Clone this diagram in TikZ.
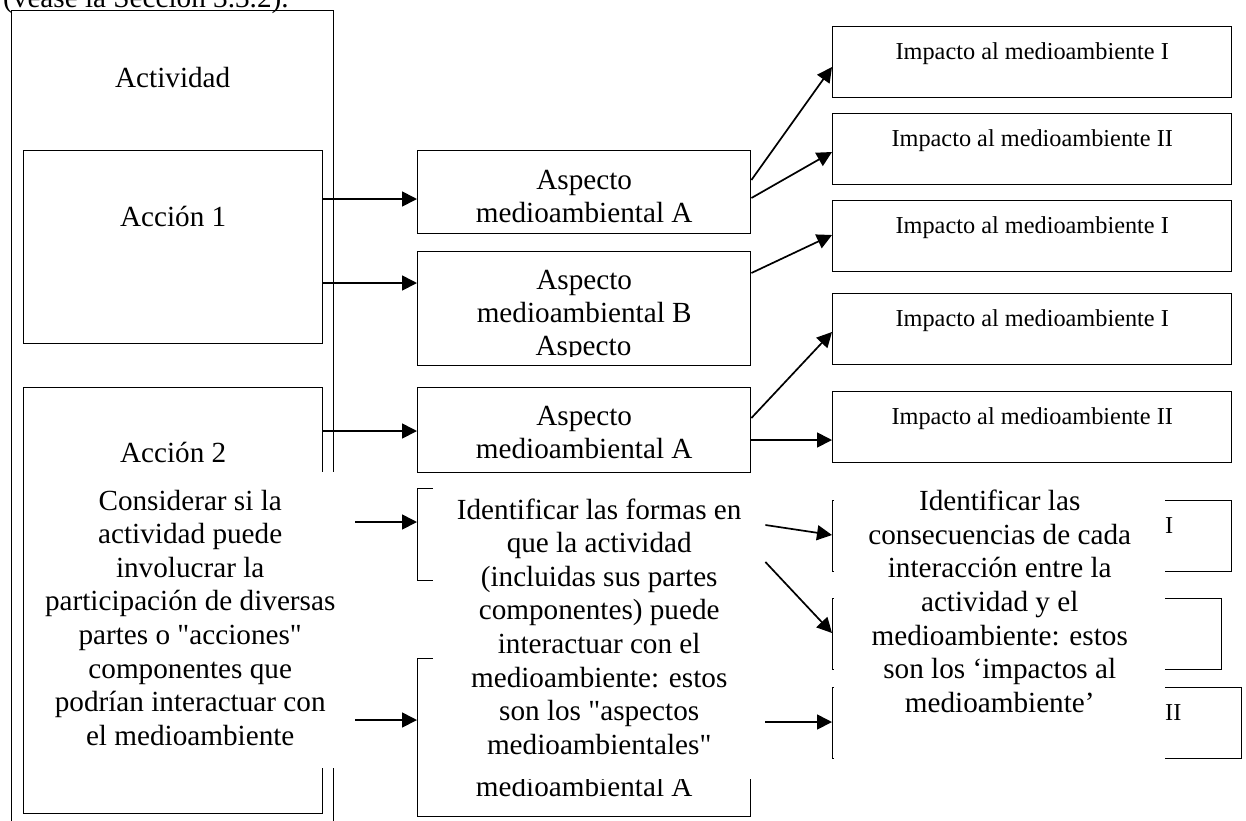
\documentclass[tikz,border=0pt]{standalone}
\usepackage{fontspec}
\setmainfont{Liberation Serif}
\usepackage{tikz}
\usetikzlibrary{arrows.meta}

\begin{document}
\begin{tikzpicture}[x=1pt,y=-1pt,
  box/.style={draw,line width=1.4pt,inner sep=0pt,anchor=north west,align=center,font=\fontsize{29.2}{33.6}\selectfont},
  imp/.style={box,minimum width=399pt,text height=33pt,text depth=38pt,font=\fontsize{24.3}{28}\selectfont},
  cover/.style={fill=white,inner sep=0pt,anchor=north west,align=center,font=\fontsize{29.2}{33.6}\selectfont},
  arr/.style={-{Triangle[length=15pt,width=15pt]},line width=1.7pt}]
\useasboundingbox (0,0) rectangle (1246,820);
\clip (0,0) rectangle (1246,820);
\fill[white] (0,0) rectangle (1246,820);
\node[anchor=base west,inner sep=0pt,font=\fontsize{29.2}{33.6}\selectfont] (ref) at (3,7) {(véase la Sección 3.3.2).};
\node[box,minimum width=322pt,text height=77pt,text depth=743pt] (act) at (11,10) {Actividad};
\node[box,minimum width=299pt,text height=76pt,text depth=117pt] (acc1) at (23,150) {Acción 1};
\node[box,minimum width=299pt,text height=75pt,text depth=351pt] (acc2) at (23,387) {Acción 2};
\node[box,minimum width=333pt,text height=72pt,text depth=11pt] (asA) at (417,150) {Aspecto\\medioambiental A};
\node[box,minimum width=333pt,text height=71pt,text depth=43pt] (asB) at (417,251) {Aspecto\\medioambiental B};
\begin{scope}
  \clip (417,330) rectangle (750,356);
  \node[anchor=base,inner sep=0pt,font=\fontsize{29.2}{33.6}\selectfont] (asBx) at (583.5,355) {Aspecto};
\end{scope}
\node[box,minimum width=333pt,text height=71pt,text depth=14pt] (asC) at (417,387) {Aspecto\\medioambiental A};
\node[box,minimum width=333pt,text height=92pt,text depth=0pt] (asD) at (417,488) {};
\node[box,minimum width=333pt,text height=138pt,text depth=20pt] (asE) at (417,658) {medioambiental A};
\node[imp] (imp1) at (832,26) {Impacto al medioambiente I};
\node[imp] (imp2) at (832,113) {Impacto al medioambiente II};
\node[imp] (imp3) at (832,200) {Impacto al medioambiente I};
\node[imp] (imp4) at (832,293) {Impacto al medioambiente I};
\node[imp] (imp5) at (832,391) {Impacto al medioambiente II};
\node[imp] (impR1) at (832,500) {};
\node[imp,minimum width=389pt] (impR2) at (832,598) {};
\node[imp,minimum width=409pt] (impR3) at (832,687) {};
\draw[arr] (acc1.east |- 0,199) -- (asA.west |- 0,199);
\draw[arr] (acc1.east |- 0,283) -- (asB.west |- 0,283);
\draw[arr] (acc2.east |- 0,431) -- (asC.west |- 0,431);
\draw[arr] (asA.east |- 0,180) -- (imp1.west |- 0,67);
\draw[arr] (asA.east |- 0,198) -- (imp2.west |- 0,152);
\draw[arr] (asB.east |- 0,273) -- (imp3.west |- 0,235);
\draw[arr] (asC.east |- 0,418) -- (imp4.west |- 0,332);
\draw[arr] (asC.east |- 0,440) -- (imp5.west |- 0,440);
\node[cover,minimum width=330pt,text height=273pt,text depth=23pt] (ovA) at (25,472) {Considerar si la\\actividad puede\\involucrar la\\participación de diversas\\partes o \textquotedbl acciones\textquotedbl\\componentes que\\podrían interactuar con\\el medioambiente};
\node[cover,minimum width=332pt,text height=278pt,text depth=25pt] (ovB) at (433,476) {Identificar las formas en\\que la actividad\\(incluidas sus partes\\componentes) puede\\interactuar con el\\medioambiente: estos\\son los \textquotedbl aspectos\\medioambientales\textquotedbl};
\node[cover,minimum width=331pt,text height=240pt,text depth=58pt] (ovC) at (834,472) {Identificar las\\consecuencias de cada\\interacción entre la\\actividad y el\\medioambiente: estos\\son los ‘impactos al\\medioambiente’};
\node[anchor=base west,inner sep=0pt,font=\fontsize{24.3}{28}\selectfont] (r1t) at (1165,533) {I};
\node[anchor=base west,inner sep=0pt,font=\fontsize{24.3}{28}\selectfont] (r3t) at (1165,720) {II};
\draw[arr] (ovA.east |- 0,522) -- (asD.west |- 0,522);
\draw[arr] (ovA.east |- 0,720) -- (asE.west |- 0,720);
\draw[arr] (ovB.east |- 0,525) -- (impR1.west |- 0,535);
\draw[arr] (ovB.east |- 0,562) -- (impR2.west |- 0,633);
\draw[arr] (ovB.east |- 0,722) -- (impR3.west |- 0,722);
\end{tikzpicture}
\end{document}
